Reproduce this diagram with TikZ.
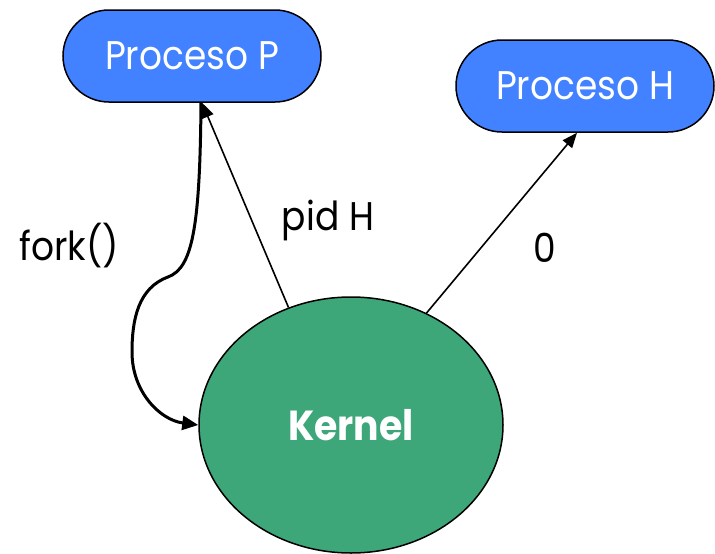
\documentclass[tikz,border=0pt]{standalone}
\usepackage{fontspec}
\setmainfont{Poppins}[FakeStretch=0.9]
\usetikzlibrary{arrows.meta,shapes.geometric}
\definecolor{procblue}{RGB}{66,129,255}
\definecolor{kerngreen}{RGB}{61,167,122}
\begin{document}
\begin{tikzpicture}[x=1pt,y=-1pt,
  proc/.style={draw=black,line width=1.5pt,fill=procblue,rounded corners=46pt,
    minimum width=258pt,minimum height=92pt,inner sep=0pt,
    text=white,font=\fontsize{40}{44}\selectfont},
  kern/.style={draw=black,line width=1.5pt,fill=kerngreen,ellipse,
    minimum width=304pt,minimum height=256pt,inner sep=0pt,
    text=white,font=\fontsize{42}{46}\selectfont\bfseries},
  thinarrow/.style={line width=1.6pt,-{Triangle[length=15pt,width=12pt]}},
  thickarrow/.style={line width=3pt,-{Triangle[length=16pt,width=14pt]}},
  lbl/.style={font=\fontsize{40}{44}\selectfont,text=black,inner sep=0pt}]
\useasboundingbox (0,0) rectangle (715,554);
\node[proc] (pp) at (192,56) {Proceso P};
\node[proc] (ph) at (585,86) {Proceso H};
\node[kern] (kern) at (351,425) {Kernel};
% return values of fork
\draw[thinarrow] (kern.118.4) -- ([xshift=10pt]pp.south);
\draw[thinarrow] (kern.56.4) -- ([xshift=-8pt]ph.south);
% the fork() call going down into the kernel
\draw[thickarrow] ([xshift=9pt]pp.south) .. controls (200,230) and (192,268) .. (168,277)
  .. controls (138,288) and (132,320) .. (132,352)
  .. controls (132,392) and (160,420) .. (kern.west);
\node[lbl] (lfork) at (69,246) {fork()};
\node[lbl] (lpid) at (328,220) {pid H};
\node[lbl] (lzero) at (545,248) {0};
\end{tikzpicture}
\end{document}
